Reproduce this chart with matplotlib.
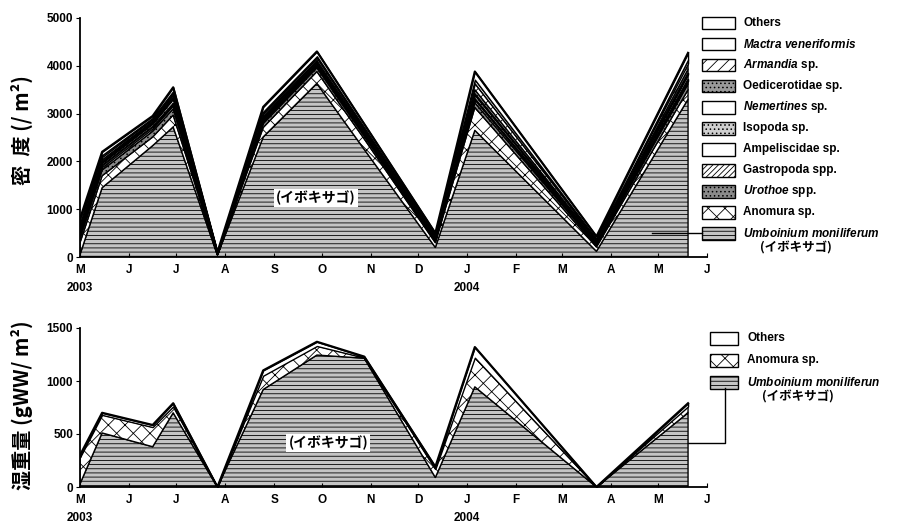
import numpy as np
import pandas as pd
import matplotlib
matplotlib.use('Agg')
import matplotlib.pyplot as plt
import matplotlib.dates as mdates
from matplotlib.patches import Rectangle
from matplotlib.ticker import FuncFormatter

plt.rcParams['font.family'] = ['Liberation Sans', 'DejaVu Sans']
plt.rcParams['font.weight'] = 'bold'
plt.rcParams['mathtext.fontset'] = 'custom'
plt.rcParams['mathtext.it'] = 'Liberation Sans:italic:bold'
plt.rcParams['mathtext.rm'] = 'Liberation Sans:bold'
plt.rcParams['hatch.linewidth'] = 0.6

jp = ['Noto Sans CJK JP', 'DejaVu Sans']

# sampling dates
dates = pd.to_datetime(['2003-05-01', '2003-05-15', '2003-06-16', '2003-06-29',
                        '2003-07-27', '2003-08-25', '2003-09-28', '2003-10-28',
                        '2003-12-12', '2004-01-06', '2004-03-23', '2004-05-20'])

# density (/m2), bottom -> top
umboinium = [50, 1450, 2330, 2720, 40, 2510, 3630, 2250, 200, 2650, 120, 3300]
anomura = [250, 250, 180, 250, 10, 200, 250, 220, 100, 480, 90, 200]
urothoe = [100, 120, 120, 130, 5, 80, 80, 60, 40, 100, 40, 120]
gastropoda = [60, 60, 60, 70, 5, 40, 40, 30, 20, 60, 20, 60]
ampeliscidae = [40, 40, 40, 40, 5, 30, 20, 20, 10, 30, 10, 40]
isopoda = [40, 50, 60, 100, 5, 30, 30, 20, 10, 70, 20, 100]
nemertines = [30, 20, 20, 20, 5, 20, 20, 10, 10, 30, 10, 30]
oedicerotidae = [40, 40, 30, 50, 5, 30, 40, 30, 20, 80, 20, 80]
armandia = [40, 60, 40, 50, 5, 60, 60, 50, 30, 130, 30, 120]
mactra = [50, 40, 30, 40, 5, 40, 30, 20, 20, 80, 20, 80]
others = [100, 70, 40, 80, 10, 100, 100, 70, 40, 170, 50, 140]

# wet weight (gWW/m2), bottom -> top
ww_umboinium = [30, 510, 380, 700, 0, 920, 1245, 1215, 90, 945, 0, 700]
ww_anomura = [250, 170, 185, 60, 0, 130, 85, 5, 80, 275, 0, 60]
ww_others = [20, 20, 20, 30, 0, 50, 40, 10, 20, 100, 0, 30]

top_labels = [r'$\mathit{Umboinium\ moniliferum}$', 'Anomura sp.', r'$\mathit{Urothoe}$ spp.',
              'Gastropoda spp.', 'Ampeliscidae sp.', 'Isopoda sp.', r'$\mathit{Nemertines}$ sp.',
              'Oedicerotidae sp.', r'$\mathit{Armandia}$ sp.', r'$\mathit{Mactra\ veneriformis}$', 'Others']
bot_labels = [r'$\mathit{Umboinium\ moniliferun}$', 'Anomura sp.', 'Others']

top_styles = [('#c4c4c4', '----'), ('white', 'xx'), ('#8a8a8a', '....'), ('white', '//////'),
              ('white', None), ('#cfcfcf', '....'), ('white', None), ('#9a9a9a', '....'),
              ('white', '///'), ('white', None), ('white', None)]
bot_styles = [('#c4c4c4', '----'), ('white', 'xx'), ('white', None)]


def stack(ax, layers, styles):
    base = np.zeros(len(dates))
    for vals, (fc, hatch) in zip(layers, styles):
        top = base + np.array(vals)
        ax.fill_between(dates, base, top, facecolor=fc, hatch=hatch,
                        edgecolor='black', linewidth=1.0)
        base = top
    ax.plot(dates, base, color='black', lw=1.6)


def legend(ax, labels, styles, x0, y0, dy, w, h, tx):
    n = len(labels)
    for i in range(n):
        lab = labels[n - 1 - i]
        fc, hatch = styles[n - 1 - i]
        y = y0 - i * dy
        ax.add_patch(Rectangle((x0, y - h / 2), w, h, transform=ax.transAxes, facecolor=fc,
                               hatch=hatch, edgecolor='black', lw=1, clip_on=False))
        ax.text(tx, y, lab, transform=ax.transAxes, va='center', ha='left', fontsize=8.5)


def style_axes(ax, ymax, ystep):
    ax.set_xlim(pd.Timestamp('2003-05-01'), pd.Timestamp('2004-06-01'))
    ax.set_ylim(0, ymax)
    ax.set_yticks(np.arange(0, ymax + 1, ystep))
    ax.spines['top'].set_visible(False)
    ax.spines['right'].set_visible(False)
    ax.spines['left'].set_linewidth(1.3)
    ax.spines['bottom'].set_linewidth(1.3)
    ax.xaxis.set_major_locator(mdates.MonthLocator())
    ax.xaxis.set_major_formatter(FuncFormatter(lambda x, p: mdates.num2date(x).strftime('%b')[0]))
    ax.tick_params(axis='x', direction='in', length=3, labelsize=8.5, pad=5)
    ax.tick_params(axis='y', direction='out', length=3, labelsize=8.5, pad=2)
    for lab in ax.get_xticklabels() + ax.get_yticklabels():
        lab.set_fontweight('bold')
    for d, yr in [('2003-05-01', '2003'), ('2004-01-01', '2004')]:
        ax.annotate(yr, (mdates.date2num(pd.Timestamp(d)), 0), xycoords=ax.get_xaxis_transform(),
                    xytext=(0, -22), textcoords='offset points', ha='center', va='center',
                    fontsize=8.5, fontweight='bold', annotation_clip=False)


fig = plt.figure(figsize=(9.1, 5.24), dpi=100)
ax1 = fig.add_axes([80 / 910, 1 - 257 / 524, 627 / 910, 239 / 524])
ax2 = fig.add_axes([80 / 910, 1 - 487 / 524, 627 / 910, 159 / 524])

stack(ax1, [umboinium, anomura, urothoe, gastropoda, ampeliscidae, isopoda, nemertines,
            oedicerotidae, armandia, mactra, others], top_styles)
style_axes(ax1, 5000, 1000)
legend(ax1, top_labels, top_styles, 0.992, 0.979, 0.0879, 0.053, 0.054, 1.058)
ax1.text(1.085, (257 - 248) / 239, '(イボキサゴ)', transform=ax1.transAxes, ha='left',
         va='center', fontsize=9, family=jp, fontweight='bold')
ax1.plot([0.912, 0.992], [0.100, 0.100], transform=ax1.transAxes, color='black', lw=1,
         clip_on=False)
ax1.text(0.376, 0.247, '(イボキサゴ)', transform=ax1.transAxes, ha='center', va='center',
         fontsize=10, family=jp, fontweight='bold',
         bbox=dict(facecolor='white', edgecolor='none', pad=1.5))

stack(ax2, [ww_umboinium, ww_anomura, ww_others], bot_styles)
style_axes(ax2, 1500, 500)
lx0 = (710 - 80) / 627
legend(ax2, bot_labels, bot_styles, lx0, (487 - 338) / 159, 22 / 159, 28 / 627, 13 / 159,
       (747 - 80) / 627)
ax2.text((762 - 80) / 627, (487 - 397) / 159, '(イボキサゴ)', transform=ax2.transAxes,
         ha='left', va='center', fontsize=9, family=jp, fontweight='bold')
cx = (725 - 80) / 627
ax2.plot([cx, cx, (688 - 80) / 627], [(487 - 388) / 159, (487 - 443) / 159, (487 - 443) / 159],
         transform=ax2.transAxes, color='black', lw=1, clip_on=False)
ax2.text(0.396, 0.277, '(イボキサゴ)', transform=ax2.transAxes, ha='center', va='center',
         fontsize=10, family=jp, fontweight='bold',
         bbox=dict(facecolor='white', edgecolor='none', pad=1.5))

fig.text(0.024, 1 - 130 / 524, '密  度 (/ m²)', rotation=90, ha='center', va='center',
         fontsize=14.5, family=jp, fontweight='bold')
fig.text(0.024, 1 - 405 / 524, '湿重量 (gWW/ m²)', rotation=90, ha='center', va='center',
         fontsize=14.5, family=jp, fontweight='bold')

fig.savefig('out.png', dpi=100)
